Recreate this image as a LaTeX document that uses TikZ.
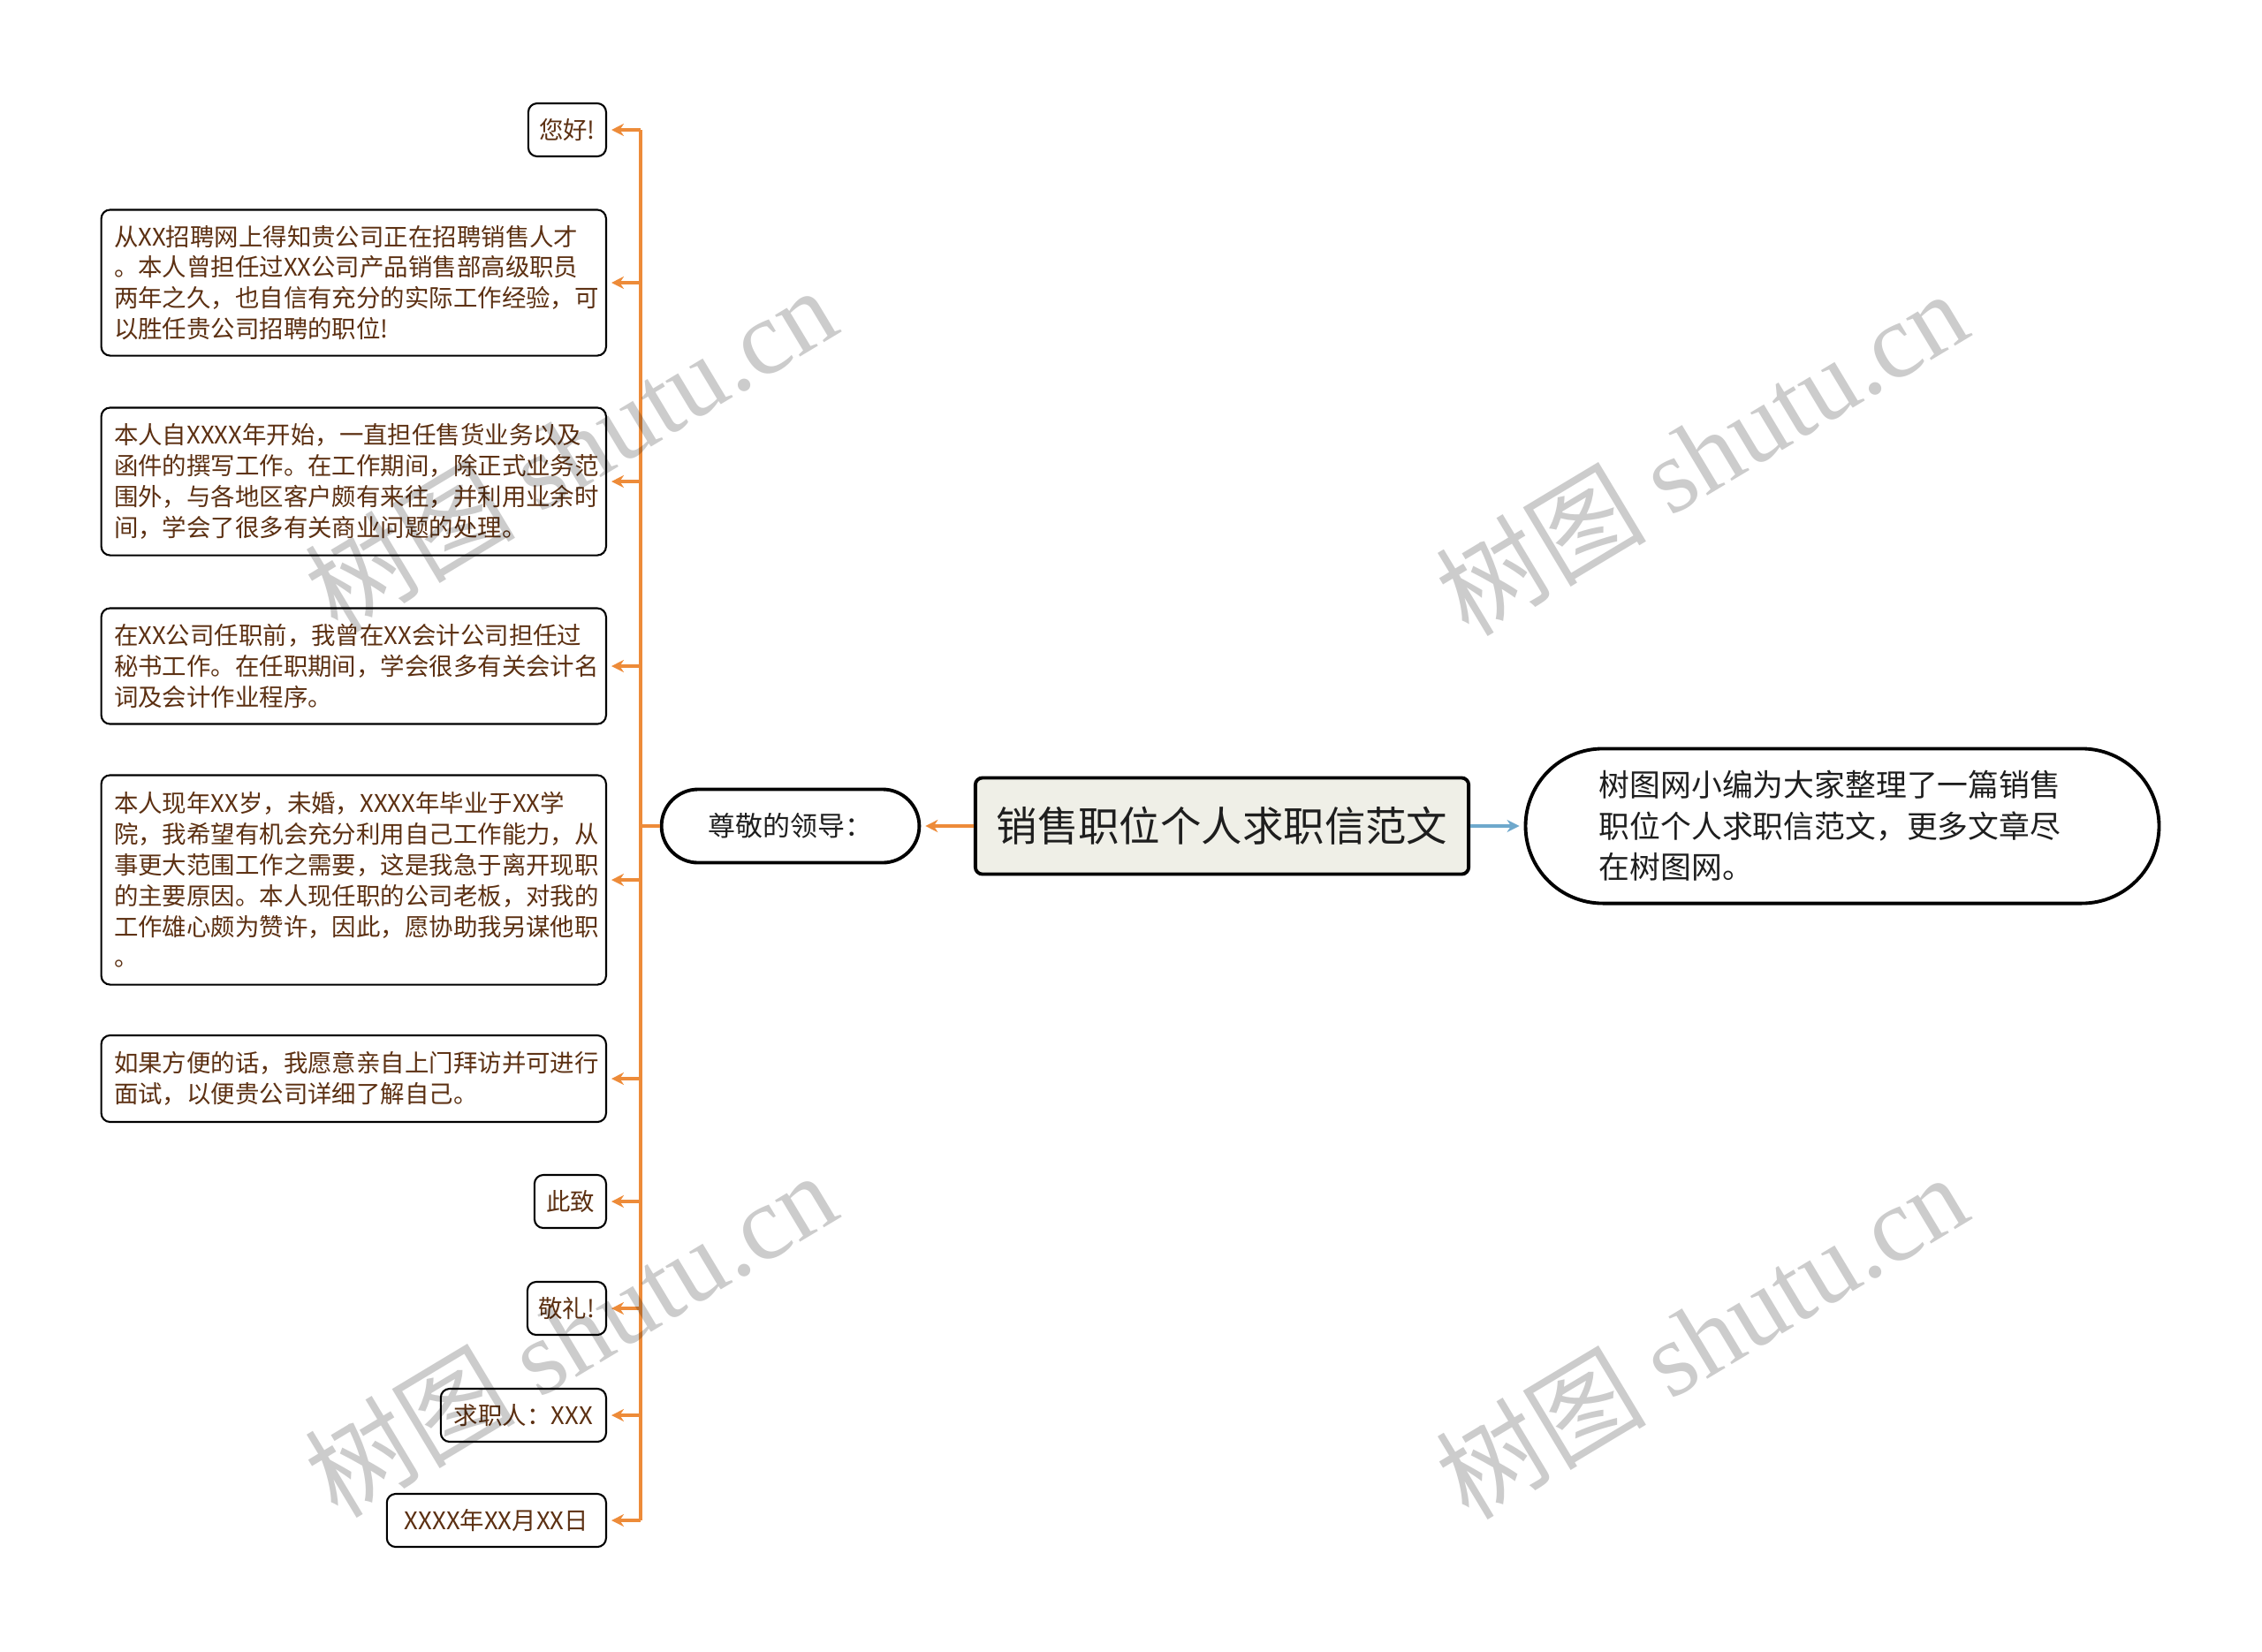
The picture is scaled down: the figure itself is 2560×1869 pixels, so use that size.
\documentclass[tikz,border=0pt]{standalone}
\usepackage{fontspec}
\setmainfont{Noto Sans CJK SC}
\newfontfamily\wmserif{Liberation Serif}
\newfontfamily\wmsans{Noto Sans CJK SC}
\usetikzlibrary{arrows.meta,shapes.misc}
\definecolor{orangeline}{RGB}{237,139,57}
\definecolor{blueline}{RGB}{110,168,204}
\definecolor{rootfill}{RGB}{239,239,231}
\definecolor{leaftext}{RGB}{92,48,18}
\definecolor{darktext}{RGB}{30,30,30}
\begin{document}
\begin{tikzpicture}[x=0.01cm,y=-0.01cm,
  leaf/.style={draw=black, line width=0.6pt, rounded corners=0.1cm, fill=white,
    text=leaftext, font=\fontsize{7.8pt}{9.9pt}\selectfont, inner xsep=0.145cm, inner ysep=0pt, anchor=east},
  longleaf/.style={leaf, text width=5.42cm, align=left},
  shortleaf/.style={leaf, inner xsep=0.12cm, minimum height=0.6cm, align=center},
  rootbox/.style={draw=black, line width=1.1pt, rounded corners=0.08cm, fill=rootfill,
    text=darktext, font=\fontsize{13.2pt}{15pt}\selectfont, minimum width=5.58cm, minimum height=1.09cm},
  pill/.style={rounded rectangle, draw=black, line width=1.1pt, fill=white, text=darktext},
  oarr/.style={draw=orangeline, line width=1.1pt, -{Stealth[length=0.14cm,width=0.14cm]}, shorten >=0.05cm},
  oline/.style={draw=orangeline, line width=1.1pt},
  barr/.style={draw=blueline, line width=1.1pt, -{Stealth[length=0.14cm,width=0.14cm]}, shorten >=0.05cm},
  wm/.style={rotate=31, text=black, text opacity=0.2, font=\fontsize{34pt}{36pt}\selectfont}
]
\useasboundingbox (0,0) rectangle (2560,1869);

% root and first-level nodes
\node[rootbox] (root) at (1383,935) {销售职位个人求职信范文};
\node[pill, minimum width=3.15cm, minimum height=0.83cm, font=\fontsize{8.8pt}{10pt}\selectfont] (lead) at (894.5,935) {尊敬的领导：};
\node[pill, minimum width=7.40cm, minimum height=1.75cm, text width=5.5cm, align=left,
      font=\fontsize{9.9pt}{13.2pt}\selectfont] (summary) at (2085,935)
  {树图网小编为大家整理了一篇销售\\职位个人求职信范文，更多文章尽\\在树图网。};

% leaves
\node[shortleaf, minimum width=0.88cm] (b1) at (687,147) {您好!};
\node[longleaf, minimum height=1.65cm] (b2) at (687,320)
  {从XX招聘网上得知贵公司正在招聘销售人才\\。本人曾担任过XX公司产品销售部高级职员\\两年之久，也自信有充分的实际工作经验，可\\以胜任贵公司招聘的职位!};
\node[longleaf, minimum height=1.67cm] (b3) at (687,545)
  {本人自XXXX年开始，一直担任售货业务以及\\函件的撰写工作。在工作期间，除正式业务范\\围外，与各地区客户颇有来往，并利用业余时\\间，学会了很多有关商业问题的处理。};
\node[longleaf, minimum height=1.31cm] (b4) at (687,754)
  {在XX公司任职前，我曾在XX会计公司担任过\\秘书工作。在任职期间，学会很多有关会计名\\词及会计作业程序。};
\node[longleaf, minimum height=2.37cm] (b5) at (687,996)
  {本人现年XX岁，未婚，XXXX年毕业于XX学\\院，我希望有机会充分利用自己工作能力，从\\事更大范围工作之需要，这是我急于离开现职\\的主要原因。本人现任职的公司老板，对我的\\工作雄心颇为赞许，因此，愿协助我另谋他职\\。};
\node[longleaf, minimum height=0.98cm] (b6) at (687,1221)
  {如果方便的话，我愿意亲自上门拜访并可进行\\面试，以便贵公司详细了解自己。};
\node[shortleaf, minimum width=0.81cm] (b7) at (687,1360) {此致};
\node[shortleaf, minimum width=0.89cm] (b8) at (687,1481) {敬礼!};
\node[shortleaf, minimum width=1.87cm] (b9) at (687,1602) {求职人：XXX};
\node[shortleaf, minimum width=2.48cm] (b10) at (687,1721) {XXXX年XX月XX日};

% connectors
\draw[oarr] (root.west) -- (lead.east);
\draw[barr] (root.east) -- (summary.west);
\coordinate (trunk) at (725,935);
\draw[oline] (lead.west) -- (trunk);
\draw[oline] (trunk |- b1.east) -- (trunk |- b10.east);
\foreach \b in {b1,b2,b3,b4,b5,b6,b7,b8,b9,b10}
  \draw[oarr] (trunk |- \b.east) -- (\b.east);

% watermarks
\node[wm] (wm1) at (645,508) {\wmsans 树图 \wmserif shutu.cn};
\node[wm] (wm2) at (1925,512) {\wmsans 树图 \wmserif shutu.cn};
\node[wm] (wm3) at (645,1510) {\wmsans 树图 \wmserif shutu.cn};
\node[wm] (wm4) at (1925,1512) {\wmsans 树图 \wmserif shutu.cn};
\end{tikzpicture}
\end{document}
